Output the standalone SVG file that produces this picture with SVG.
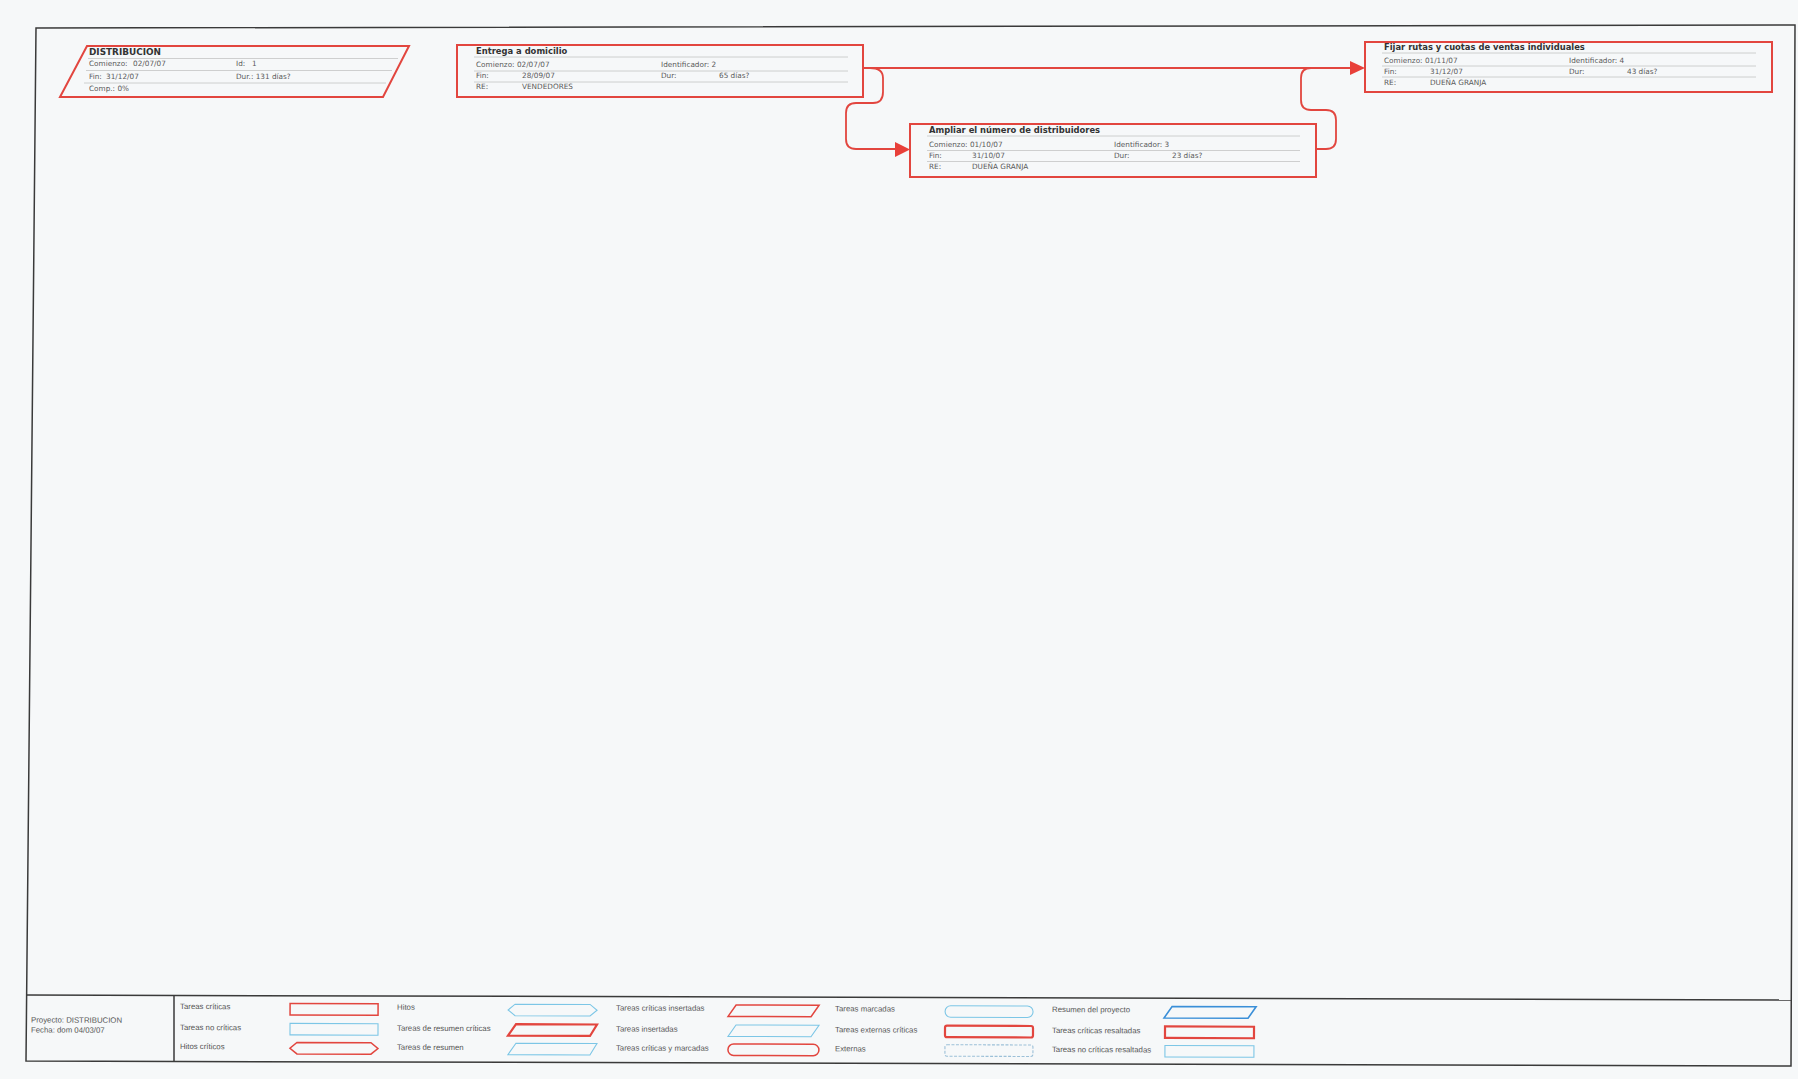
<svg xmlns="http://www.w3.org/2000/svg" width="1798" height="1079" viewBox="0 0 1798 1079">
<style>
.bg{fill:#f6f8f9}
.frame{fill:none;stroke:#3a3a3a;stroke-width:1.5}
.box{fill:none;stroke:#e2463f;stroke-width:2}
.sep{stroke:#c4c4c4;stroke-width:0.8;fill:none}
.ttl{font-family:"DejaVu Sans",Verdana,sans-serif;font-weight:bold;font-size:8.4px;fill:#333}
.ttlb{font-family:"DejaVu Sans",Verdana,sans-serif;font-weight:bold;font-size:8.9px;fill:#333}
.t{font-family:"DejaVu Sans",Verdana,sans-serif;font-size:7.3px;fill:#5a5a5a}
.conn{fill:none;stroke:#e2463f;stroke-width:1.8}
.arr{fill:#e8403a}
.lg{font-family:"Liberation Sans",Arial,sans-serif;font-size:7.8px;fill:#555}
.lr{fill:none;stroke:#e2463f;stroke-width:1.5}
.lrt{fill:none;stroke:#e2463f;stroke-width:2.2}
.lb{fill:none;stroke:#7cc6e6;stroke-width:1.1}
.lbd{fill:none;stroke:#3a8fd8;stroke-width:1.6}
.lbx{fill:none;stroke:#9cc0d8;stroke-width:1.1;stroke-dasharray:3 1.5}
</style>
<rect class="bg" x="0" y="0" width="1798" height="1079"/>

<g id="frame">
<polygon class="frame" points="36,28 1795,25 1791,1066 26,1061"/>
<line class="frame" x1="26" y1="995" x2="1791" y2="1000"/>
<line class="frame" x1="174" y1="995" x2="174" y2="1061"/>
</g>

<g id="connectors">
<path class="conn" d="M 863 68 L 1351 68"/>
<polygon class="arr" points="1350,61 1365,68 1350,75"/>
<path class="conn" d="M 870 68 Q 883 68 883 78 L 883 92 Q 883 103 873 103 L 856 103 Q 846 103 846 113 L 846 139 Q 846 149 856 149 L 896 149"/>
<polygon class="arr" points="895,142 910,149.5 895,157"/>
<path class="conn" d="M 1316 149 L 1326 149 Q 1336 149 1336 139 L 1336 120 Q 1336 110 1326 110 L 1311 110 Q 1301 110 1301 100 L 1301 78 Q 1301 68 1311 68"/>
</g>

<g id="node-distribucion">
<polygon class="box" points="87,46 409,46 383,97 60,97"/>
<line class="sep" x1="88" y1="58.5" x2="398" y2="58.5"/>
<line class="sep" x1="86" y1="70.5" x2="392" y2="70.5"/>
<line class="sep" x1="84" y1="83" x2="386" y2="83"/>
<text class="ttlb" x="89" y="54.5">DISTRIBUCION</text>
<text class="t" x="89" y="66">Comienzo:</text><text class="t" x="133" y="66">02/07/07</text>
<text class="t" x="236" y="66">Id:</text><text class="t" x="252" y="66">1</text>
<text class="t" x="89" y="78.5">Fin:</text><text class="t" x="106" y="78.5">31/12/07</text>
<text class="t" x="236" y="78.5">Dur.: 131 días?</text>
<text class="t" x="89" y="91">Comp.: 0%</text>
</g>

<g id="node-2">
<rect class="box" x="457" y="45" width="406" height="52"/>
<line class="sep" x1="474" y1="57" x2="848" y2="57"/>
<line class="sep" x1="474" y1="71" x2="848" y2="71"/>
<line class="sep" x1="474" y1="82" x2="848" y2="82"/>
<text class="ttl" x="476" y="54">Entrega a domicilio</text>
<text class="t" x="476" y="67">Comienzo: 02/07/07</text>
<text class="t" x="661" y="67">Identificador: 2</text>
<text class="t" x="476" y="78">Fin:</text><text class="t" x="522" y="78">28/09/07</text>
<text class="t" x="661" y="78">Dur:</text><text class="t" x="719" y="78">65 días?</text>
<text class="t" x="476" y="89">RE:</text><text class="t" x="522" y="89">VENDEDORES</text>
</g>

<g id="node-3">
<rect class="box" x="910" y="124" width="406" height="53"/>
<line class="sep" x1="927" y1="136" x2="1300" y2="136"/>
<line class="sep" x1="927" y1="150.5" x2="1300" y2="150.5"/>
<line class="sep" x1="927" y1="161.5" x2="1300" y2="161.5"/>
<text class="ttl" x="929" y="133">Ampliar el número de distribuidores</text>
<text class="t" x="929" y="147">Comienzo: 01/10/07</text>
<text class="t" x="1114" y="147">Identificador: 3</text>
<text class="t" x="929" y="158">Fin:</text><text class="t" x="972" y="158">31/10/07</text>
<text class="t" x="1114" y="158">Dur:</text><text class="t" x="1172" y="158">23 días?</text>
<text class="t" x="929" y="169">RE:</text><text class="t" x="972" y="169">DUEÑA GRANJA</text>
</g>

<g id="node-4">
<rect class="box" x="1365" y="42" width="407" height="50"/>
<line class="sep" x1="1382" y1="53" x2="1756" y2="53"/>
<line class="sep" x1="1382" y1="66" x2="1756" y2="66"/>
<line class="sep" x1="1382" y1="77" x2="1756" y2="77"/>
<text class="ttl" x="1384" y="50">Fijar rutas y cuotas de ventas individuales</text>
<text class="t" x="1384" y="62.5">Comienzo: 01/11/07</text>
<text class="t" x="1569" y="62.5">Identificador: 4</text>
<text class="t" x="1384" y="73.5">Fin:</text><text class="t" x="1430" y="73.5">31/12/07</text>
<text class="t" x="1569" y="73.5">Dur:</text><text class="t" x="1627" y="73.5">43 días?</text>
<text class="t" x="1384" y="84.5">RE:</text><text class="t" x="1430" y="84.5">DUEÑA GRANJA</text>
</g>

<g id="legend" transform="rotate(0.2 174 1030)">
<text class="lg" x="31" y="1023">Proyecto: DISTRIBUCION</text>
<text class="lg" x="31" y="1033">Fecha: dom 04/03/07</text>

<text class="lg" x="180" y="1009">Tareas críticas</text>
<text class="lg" x="180" y="1030">Tareas no críticas</text>
<text class="lg" x="180" y="1049">Hitos críticos</text>
<rect class="lr" x="290" y="1003" width="88" height="11.5"/>
<rect class="lb" x="290" y="1023" width="88" height="11.5"/>
<polygon class="lr" points="297,1042 371,1042 378,1047.8 371,1053.5 297,1053.5 290,1047.8"/>

<text class="lg" x="397" y="1009">Hitos</text>
<text class="lg" x="397" y="1030">Tareas de resumen críticas</text>
<text class="lg" x="397" y="1049">Tareas de resumen</text>
<polygon class="lb" points="515,1003 590,1003 597,1008.8 590,1014.5 515,1014.5 508,1008.8"/>
<polygon class="lrt" points="516,1023 597,1023 590,1034.5 508,1034.5"/>
<polygon class="lb" points="516,1042 597,1042 590,1053.5 508,1053.5"/>

<text class="lg" x="616" y="1009">Tareas críticas insertadas</text>
<text class="lg" x="616" y="1030">Tareas insertadas</text>
<text class="lg" x="616" y="1049">Tareas críticas y marcadas</text>
<polygon class="lr" points="736,1003 819,1003 811,1014.5 728,1014.5"/>
<polygon class="lb" points="736,1023 819,1023 811,1034.5 728,1034.5"/>
<rect class="lr" x="728" y="1042" width="91" height="11.5" rx="5.7"/>

<text class="lg" x="835" y="1009">Tareas marcadas</text>
<text class="lg" x="835" y="1030">Tareas externas críticas</text>
<text class="lg" x="835" y="1049">Externas</text>
<rect class="lb" x="945" y="1003" width="88" height="11.5" rx="5.7"/>
<rect class="lrt" x="945" y="1023" width="88" height="11.5" rx="2"/>
<rect class="lbx" x="945" y="1042" width="88" height="11.5" rx="2"/>

<text class="lg" x="1052" y="1009">Resumen del proyecto</text>
<text class="lg" x="1052" y="1030">Tareas críticas resaltadas</text>
<text class="lg" x="1052" y="1049">Tareas no críticas resaltadas</text>
<polygon class="lbd" points="1172,1003 1256,1003 1248,1014.5 1164,1014.5"/>
<rect class="lrt" x="1165" y="1023" width="89" height="11.5"/>
<rect class="lb" x="1165" y="1042" width="89" height="11.5"/>
</g>
</svg>
